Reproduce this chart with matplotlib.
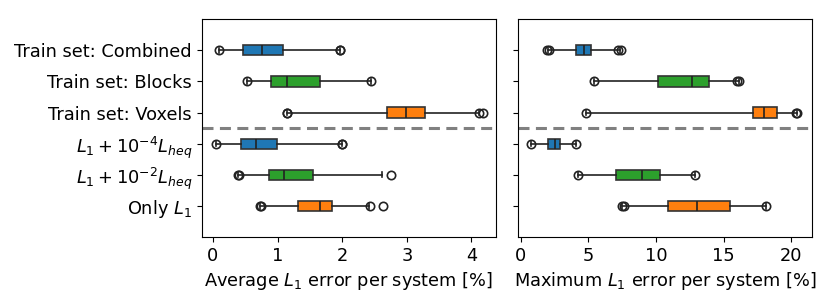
import matplotlib.pyplot as plt

labels = ["Train set: Combined", "Train set: Blocks", "Train set: Voxels",
          r"$L_1 + 10^{-4}L_{heq}$", r"$L_1 + 10^{-2}L_{heq}$", r"Only $L_1$"]
colors = ["#1f77b4", "#2ca02c", "#ff7f0e", "#1f77b4", "#2ca02c", "#ff7f0e"]

# average L1 error: whislo, q1, med, q3, whishi, fliers
avg_lo = [0.09, 0.53, 1.14, 0.04, 0.39, 0.73]
avg_q1 = [0.46, 0.90, 2.70, 0.43, 0.86, 1.32]
avg_med = [0.76, 1.15, 2.99, 0.67, 1.10, 1.66]
avg_q3 = [1.09, 1.66, 3.28, 0.99, 1.54, 1.84]
avg_hi = [1.96, 2.45, 4.12, 1.99, 2.62, 2.41]
avg_fliers = [[0.09, 1.96, 1.97], [0.53, 2.45], [1.14, 1.15, 4.12, 4.18],
              [0.04, 1.99, 2.0], [0.39, 0.40, 2.75], [0.72, 0.74, 2.43, 2.63]]

# maximum L1 error
max_lo = [2.0, 5.44, 4.85, 0.79, 4.21, 7.5]
max_q1 = [4.11, 10.15, 17.17, 2.02, 7.07, 10.86]
max_med = [4.66, 12.69, 17.98, 2.51, 8.99, 13.06]
max_q3 = [5.22, 13.92, 18.97, 2.93, 10.3, 15.45]
max_hi = [7.3, 16.09, 20.42, 4.11, 12.91, 18.1]
max_fliers = [[1.95, 2.1, 7.2, 7.4], [5.44, 16.0, 16.1], [4.85, 20.35, 20.42],
              [0.79, 4.11], [4.21, 12.91], [7.45, 7.6, 18.1]]


def make_stats(lo, q1, med, q3, hi, fl):
    return [dict(whislo=lo[i], q1=q1[i], med=med[i], q3=q3[i], whishi=hi[i],
                 fliers=fl[i]) for i in range(len(lo))]


plt.rcParams["font.size"] = 12.8
fig, (ax1, ax2) = plt.subplots(1, 2, figsize=(8.3, 3.08), dpi=100, sharey=True)
fig.subplots_adjust(left=0.243, right=0.978, top=0.938, bottom=0.23, wspace=0.075)

positions = list(range(1, 7))
panels = [(ax1, make_stats(avg_lo, avg_q1, avg_med, avg_q3, avg_hi, avg_fliers)),
          (ax2, make_stats(max_lo, max_q1, max_med, max_q3, max_hi, max_fliers))]
for ax, stats in panels:
    bp = ax.bxp(stats, positions=positions, vert=False, widths=0.33,
                patch_artist=True,
                medianprops=dict(color="#222222", lw=1.2),
                boxprops=dict(edgecolor="#333333", lw=1.2),
                whiskerprops=dict(color="#222222", lw=1.2),
                capprops=dict(color="#222222", lw=1.2),
                flierprops=dict(marker="o", markerfacecolor="none",
                                markeredgecolor="#222222", markersize=6, mew=1.2))
    for patch, c in zip(bp["boxes"], colors):
        patch.set_facecolor(c)
    ax.axhline(3.5, color="gray", lw=2.2, ls="--", dashes=(3.6, 2.1))
    ax.set_ylim(7, 0)

ax1.set_yticks(positions)
ax1.set_yticklabels(labels)
ax1.set_xlim(-0.175, 4.375)
ax1.set_xticks([0, 1, 2, 3, 4])
ax2.set_xlim(-0.22, 21.5)
ax2.set_xticks([0, 5, 10, 15, 20])
ax1.set_xlabel(r"Average $L_1$ error per system [%]")
ax2.set_xlabel(r"Maximum $L_1$ error per system [%]")

fig.savefig("out.png")
